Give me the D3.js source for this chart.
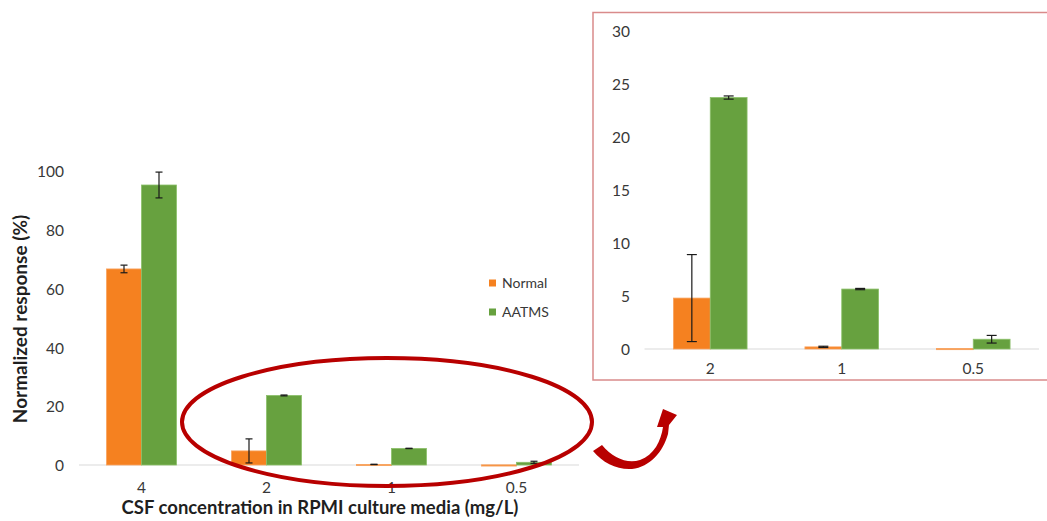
<!DOCTYPE html>
<html>
<head>
<meta charset="utf-8">
<script src="https://cdn.jsdelivr.net/npm/d3@7/dist/d3.min.js"></script>
<style>
  html, body { margin: 0; padding: 0; background: #fff; }
  svg { display: block; font-family: Lato, "Open Sans", sans-serif; }
</style>
</head>
<body>
<svg id="chart" width="1047" height="521"></svg>
<script>
// CSF concentration levels (mg/L)
const concentrations = ["4", "2", "1", "0.5"];
const seriesNames = ["Normal", "AATMS"];
// Mean normalized response (%) and error for each series
const normalMean = [66.8, 4.8, 0.2, 0.05];
const normalErr  = [1.3, 4.1, 0.06, 0.0];
const aatmsMean  = [95.4, 23.7, 5.65, 0.92];
const aatmsErr   = [4.4, 0.15, 0.06, 0.36];
// Axis ticks
const mainTicks  = [0, 20, 40, 60, 80, 100];
const zoomTicks  = [0, 5, 10, 15, 20, 25, 30];
// Concentrations shown in the zoomed panel
const zoomConcentrations = ["2", "1", "0.5"];

const colors = { Normal: "#f58120", AATMS: "#67a13f" };
const edge   = { Normal: "#f9a35f", AATMS: "#8cc06a" };
const darkRed = "#b80000";
const tickColor = "#383838";

const rows = concentrations.map((c, i) => ({
  c,
  values: [
    { s: "Normal", v: normalMean[i], e: normalErr[i] },
    { s: "AATMS",  v: aatmsMean[i],  e: aatmsErr[i] }
  ]
}));

const svg = d3.select("#chart");

function drawPanel(g, data, x, y, ticks, opts) {
  const x1 = d3.scaleBand().domain(seriesNames)
    .range([x.bandwidth() * 0.22, x.bandwidth() * 0.78]);

  // baseline
  g.append("line")
    .attr("x1", x.range()[0]).attr("x2", x.range()[1])
    .attr("y1", y(0)).attr("y2", y(0))
    .attr("stroke", "#d9d9d9").attr("stroke-width", 1);

  // y tick labels
  const yAxis = d3.axisLeft(y).tickValues(ticks).tickSize(0).tickPadding(0);
  const ya = g.append("g").attr("transform", `translate(${opts.yLabelX},0)`).call(yAxis);
  ya.select(".domain").remove();
  ya.selectAll("text").attr("font-size", 15.5).attr("fill", tickColor)
    .attr("font-family", "Lato, sans-serif").attr("dy", "0.35em");

  // x tick labels
  const xAxis = d3.axisBottom(x).tickSize(0).tickPadding(0);
  const xa = g.append("g").attr("transform", `translate(0,${opts.xLabelY})`).call(xAxis);
  xa.select(".domain").remove();
  xa.selectAll("text").attr("font-size", 15.5).attr("fill", tickColor)
    .attr("font-family", "Lato, sans-serif").attr("dy", "0.35em");

  const groups = g.selectAll(".grp").data(data).join("g")
    .attr("class", "grp")
    .attr("transform", d => `translate(${x(d.c)},0)`);

  groups.selectAll("rect").data(d => d.values).join("rect")
    .attr("x", d => x1(d.s))
    .attr("width", x1.bandwidth())
    .attr("y", d => y(d.v))
    .attr("height", d => Math.max(y(0) - y(d.v), 1.2))
    .attr("fill", d => colors[d.s])
    .attr("stroke", d => edge[d.s]).attr("stroke-width", 0.8);

  // error bars
  const eb = groups.selectAll(".err").data(d => d.values.filter(v => v.e > 0)).join("g")
    .attr("class", "err")
    .attr("stroke", "#1a1a1a").attr("stroke-width", 1.2);
  const cx = d => x1(d.s) + x1.bandwidth() / 2;
  eb.append("line")
    .attr("x1", cx).attr("x2", cx)
    .attr("y1", d => y(d.v + d.e)).attr("y2", d => y(Math.max(d.v - d.e, 0)));
  eb.append("line")
    .attr("x1", d => cx(d) - opts.cap).attr("x2", d => cx(d) + opts.cap)
    .attr("y1", d => y(d.v + d.e)).attr("y2", d => y(d.v + d.e));
  eb.append("line")
    .attr("x1", d => cx(d) - opts.cap).attr("x2", d => cx(d) + opts.cap)
    .attr("y1", d => y(Math.max(d.v - d.e, 0))).attr("y2", d => y(Math.max(d.v - d.e, 0)));
}

// ---- Main chart ----
const xMain = d3.scaleBand().domain(concentrations).range([79, 579]);
const yMain = d3.scaleLinear().domain([0, 100]).range([465, 171.5]);
const gMain = svg.append("g");
drawPanel(gMain, rows, xMain, yMain, mainTicks, { yLabelX: 64, xLabelY: 488, cap: 3.5 });

// axis titles
svg.append("text")
  .attr("transform", "translate(20,319) rotate(-90)")
  .attr("text-anchor", "middle").attr("dy", "0.35em")
  .attr("font-size", 19).attr("font-weight", "bold").attr("fill", "#1f1f1f")
  .text("Normalized response (%)");
svg.append("text")
  .attr("x", 320).attr("y", 514)
  .attr("text-anchor", "middle")
  .attr("font-size", 18.5).attr("font-weight", "bold").attr("fill", "#1f1f1f")
  .text("CSF concentration in RPMI culture media (mg/L)");

// legend
const legend = svg.append("g").attr("transform", "translate(489,0)");
seriesNames.forEach((s, i) => {
  const yy = 279.5 + i * 29;
  legend.append("rect").attr("x", 0).attr("y", yy).attr("width", 7).attr("height", 7)
    .attr("fill", colors[s]);
  legend.append("text").attr("x", 13).attr("y", yy + 3.5).attr("dy", "0.35em")
    .attr("font-size", 14).attr("fill", tickColor).text(s);
});

// ---- Zoomed panel ----
svg.append("rect")
  .attr("x", 593).attr("y", 12.5).attr("width", 460).attr("height", 367.5)
  .attr("fill", "#fff").attr("stroke", "#d98b8b").attr("stroke-width", 1.5);
const xZoom = d3.scaleBand().domain(zoomConcentrations).range([644.5, 1039]);
const yZoom = d3.scaleLinear().domain([0, 30]).range([349, 30.7]);
const gZoom = svg.append("g");
drawPanel(gZoom, rows.filter(r => zoomConcentrations.includes(r.c)), xZoom, yZoom, zoomTicks,
  { yLabelX: 630, xLabelY: 369, cap: 5 });

// ---- Highlight ellipse and arrow ----
svg.append("ellipse")
  .attr("cx", 387).attr("cy", 422).attr("rx", 205).attr("ry", 64)
  .attr("fill", "none").attr("stroke", darkRed).attr("stroke-width", 4);

svg.append("path")
  .attr("d", "M593,451 C603,463 617,470 632,469 C650,467 663,452 668,434 L669,425 L677,415 L663,409 L657,427 L663,427 C661,441 654,455 640,460 C627,464 613,458 602,445 Z")
  .attr("fill", darkRed);
</script>
</body>
</html>
